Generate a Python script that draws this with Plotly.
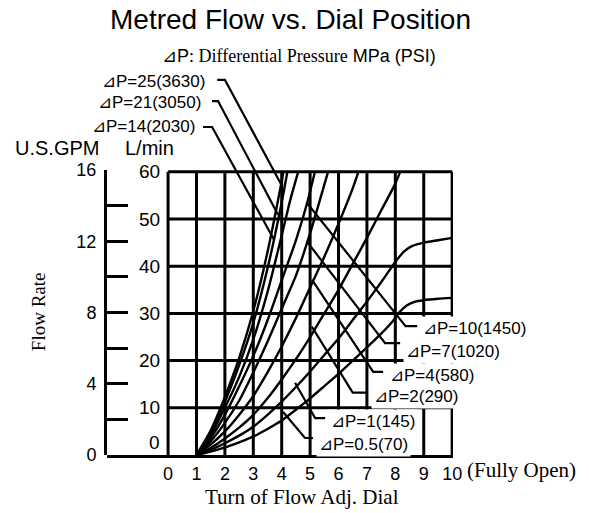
import plotly.graph_objects as go

# flow curves, L/min vs dial turns, one pair of lists per differential pressure
x_25 = [1, 1.5, 2, 2.5, 3, 3.5, 4, 4.06]
q_25 = [0, 5.2, 12.3, 20.5, 30.5, 43, 58, 60]
x_21 = [1, 1.5, 2, 2.5, 3, 3.5, 4, 4.2]
q_21 = [0, 4.8, 11.3, 19, 28, 39.5, 53.5, 60]
x_14 = [1, 1.5, 2, 2.5, 3, 3.5, 4, 4.3, 4.58]
q_14 = [0, 4.2, 10, 16.5, 24.5, 34.5, 46.5, 54, 60]
x_10 = [1, 1.5, 2, 2.5, 3, 3.5, 4, 4.5, 4.9, 5.17]
q_10 = [0, 3.6, 8.5, 14.5, 21, 28.5, 37, 45.5, 53.5, 60]
x_7 = [1, 1.5, 2, 2.5, 3, 3.5, 4, 4.5, 5, 5.63]
q_7 = [0, 2.9, 6.8, 11.5, 17.5, 24, 31, 38, 47, 60]
x_4 = [1, 1.5, 2, 2.5, 3, 3.5, 4, 4.5, 5, 5.5, 6, 6.5, 6.7]
q_4 = [0, 2.2, 5, 8.5, 12.5, 17.5, 23, 29, 35.5, 42, 49, 56.5, 60]
x_2 = [1, 1.5, 2, 2.5, 3, 3.5, 4, 4.5, 5, 5.5, 6, 6.5, 7, 7.5, 8, 8.17]
q_2 = [0, 1.5, 3.5, 5.8, 8.5, 12, 16, 20.3, 25, 30, 35, 40.5, 46, 51.8, 57.5, 60]
x_1 = [1, 1.5, 2, 2.5, 3, 3.5, 4, 4.5, 5, 5.5, 6, 6.5, 7, 7.5, 7.8, 8.05, 8.3, 8.6, 9, 9.5, 10]
q_1 = [0, 1.1, 2.5, 4.1, 6, 8.5, 11.3, 14.4, 17.7, 21.2, 24.7, 28.6, 32.5, 36.6, 39.2, 41.3, 43.1, 44.3, 45, 45.5, 46]
x_05 = [1, 1.5, 2, 2.5, 3, 3.5, 4, 4.5, 5, 5.5, 6, 6.5, 7, 7.5, 7.9, 8.15, 8.4, 8.7, 9, 9.5, 10]
q_05 = [0, 0.7, 1.6, 2.7, 3.9, 5.5, 7.3, 9.6, 12, 14.6, 17.2, 20, 22.8, 25.7, 28.3, 30.3, 31.7, 32.5, 32.8, 33.1, 33.3]

curves = [(x_25, q_25), (x_21, q_21), (x_14, q_14), (x_10, q_10), (x_7, q_7),
          (x_4, q_4), (x_2, q_2), (x_1, q_1), (x_05, q_05)]

dial_ticks = [0, 1, 2, 3, 4, 5, 6, 7, 8, 9, 10]
lmin_ticks = [0, 10, 20, 30, 40, 50, 60]
gpm_ticks = [0, 2, 4, 6, 8, 10, 12, 14, 16]
gpm_text = ['0', '', '4', '', '8', '', '12', '', '16']

left_labels = ['⊿P=25(3630)', '⊿P=21(3050)', '⊿P=14(2030)']
right_labels = ['⊿P=10(1450)', '⊿P=7(1020)', '⊿P=4(580)', '⊿P=2(290)', '⊿P=1(145)', '⊿P=0.5(70)']

SANS = 'Liberation Sans, Arial, sans-serif'
SERIF = 'Liberation Serif, Times New Roman, serif'

fig = go.Figure()

# grid (stops at 0..10 / 0..60, so drawn as shapes)
for t in dial_ticks:
    fig.add_shape(type='line', x0=t, x1=t, y0=0, y1=60, xref='x', yref='y',
                  line=dict(color='black', width=3), layer='below')
for t in lmin_ticks[1:]:
    fig.add_shape(type='line', x0=0, x1=10, y0=t, y1=t, xref='x', yref='y',
                  line=dict(color='black', width=3), layer='below')

for xs, qs in curves:
    fig.add_trace(go.Scatter(x=xs, y=qs, mode='lines', line=dict(color='black', width=2.4, shape='spline', smoothing=0.6),
                             hoverinfo='skip', showlegend=False))

# leader lines label -> curve
leaders = [
    [(1.73, 79.5), (2.0, 79.5), (4.01, 57)],
    [(1.55, 75.0), (1.76, 75.0), (3.87, 50.9)],
    [(1.23, 69.5), (1.55, 69.5), (3.73, 45.6)],
    [(4.89, 53.4), (8.36, 27.3), (8.77, 27.3)],
    [(4.89, 45.2), (7.64, 23.7), (8.17, 23.7)],
    [(5.07, 37.1), (7.22, 17.6), (7.57, 17.6)],
    [(5.06, 27.2), (6.5, 13.2), (7.04, 13.2)],
    [(4.47, 15.3), (5.18, 7.8), (5.53, 7.8)],
    [(4.05, 9.1), (4.82, 3.6), (5.1, 3.6)],
]
for pts in leaders:
    fig.add_trace(go.Scatter(x=[p[0] for p in pts], y=[p[1] for p in pts], mode='lines',
                             line=dict(color='black', width=2.2), hoverinfo='skip', showlegend=False))

# dummy trace so the GPM axis subplot exists
fig.add_trace(go.Scatter(x=[None], y=[None], yaxis='y2', showlegend=False))

ann = []
left_pos = [(1.37, 79.1), (1.23, 74.6), (1.02, 69.5)]
for txt, (ax, ay) in zip(left_labels, left_pos):
    ann.append(dict(x=ax, y=ay, text=txt, xanchor='right', yanchor='middle', showarrow=False,
                    font=dict(family=SANS, size=17, color='black')))
right_pos = [(8.87, 26.9), (8.27, 22.0), (7.71, 16.95), (7.15, 12.3), (5.63, 7.0), (5.21, 2.33)]
for txt, (ax, ay) in zip(right_labels, right_pos):
    ann.append(dict(x=ax, y=ay, text=txt, xanchor='left', yanchor='middle', showarrow=False,
                    bgcolor='white', borderpad=2, font=dict(family=SANS, size=17, color='black')))

for t in lmin_ticks:
    ann.append(dict(x=-0.2, y=t, text=str(t), xanchor='right', yanchor='middle', showarrow=False,
                    yshift=13 if t == 0 else 0, font=dict(family=SANS, size=19, color='black')))

# texts outside the axis ranges go in paper coordinates
ann += [
    dict(x=0.529, y=1.126, xref='paper', yref='paper', xanchor='center', yanchor='middle',
         text='Metred Flow vs. Dial Position', showarrow=False, borderpad=0,
         font=dict(family=SANS, size=28, color='black')),
    dict(x=0.153, y=1.031, xref='paper', yref='paper', xanchor='left', yanchor='middle', showarrow=False,
         text='⊿P<span style="font-family:Liberation Serif">: Differential Pressure</span> MPa (PSI)',
         font=dict(family=SANS, size=18, color='black')),
    dict(x=-0.272, y=0.793, xref='paper', yref='paper', xanchor='left', yanchor='middle',
         text='U.S.GPM', showarrow=False, font=dict(family=SANS, size=20, color='black')),
    dict(x=0.046, y=0.793, xref='paper', yref='paper', xanchor='left', yanchor='middle',
         text='L/min', showarrow=False, font=dict(family=SANS, size=20, color='black')),
    dict(x=1.035, y=-0.039, xref='paper', yref='paper', xanchor='left', yanchor='middle',
         text='(Fully Open)', showarrow=False, font=dict(family=SERIF, size=21, color='black')),
    dict(x=0.564, y=-0.109, xref='paper', yref='paper', xanchor='center', yanchor='middle',
         text='Turn of Flow Adj. Dial', showarrow=False, font=dict(family=SERIF, size=21, color='black')),
    dict(x=-0.199, y=0.3695, xref='paper', yref='paper', xanchor='center', yanchor='middle',
         text='Flow Rate', textangle=-90, showarrow=False, font=dict(family=SERIF, size=19, color='black')),
]

fig.update_layout(
    width=589, height=513,
    margin=dict(l=107, r=136, t=68, b=58, autoexpand=False),
    plot_bgcolor='rgba(0,0,0,0)', paper_bgcolor='white',
    annotations=ann,
    xaxis=dict(range=[-2.15, 10.03], tickvals=dial_ticks, showgrid=False, zeroline=False,
               showline=True, linecolor='black', linewidth=3, ticks='',
               tickfont=dict(family=SANS, size=18, color='black'), anchor='y'),
    yaxis=dict(range=[0, 82], visible=False, showgrid=False, zeroline=False),
    yaxis2=dict(range=[0, 16], domain=[0, 0.7364], anchor='x', side='left',
                tickvals=gpm_ticks, ticktext=gpm_text, ticks='inside', ticklen=21, tickwidth=3,
                tickcolor='black', showline=True, linecolor='black', linewidth=3,
                showgrid=False, zeroline=False, ticklabelstandoff=4,
                tickfont=dict(family=SANS, size=18, color='black')),
)

# drop the browser's default 8px body margin so the figure fills the window
fig.write_html("out.html", config={'displayModeBar': False},
               post_script="document.body.style.margin='0';")
